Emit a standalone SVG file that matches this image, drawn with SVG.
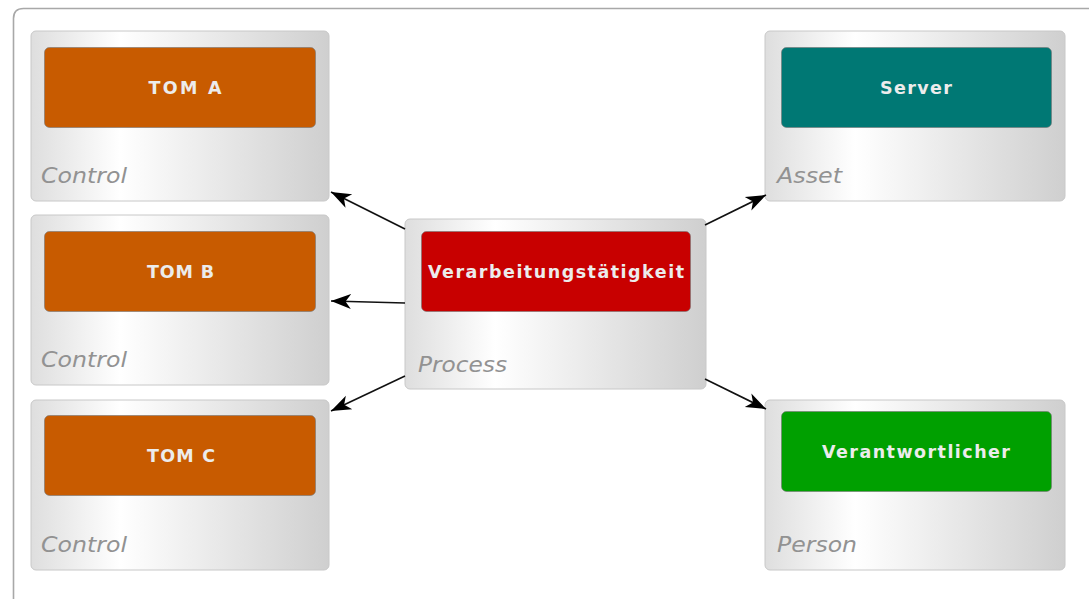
<svg xmlns="http://www.w3.org/2000/svg" width="1089" height="599" viewBox="0 0 1089 599">
<defs>
<linearGradient id="cg" x1="0" y1="0" x2="1" y2="0">
<stop offset="0" stop-color="#dedede"/>
<stop offset="0.3" stop-color="#ffffff"/>
<stop offset="1" stop-color="#cfcfcf"/>
</linearGradient>
<marker id="ah" markerUnits="userSpaceOnUse" markerWidth="22" markerHeight="18" refX="20" refY="9" orient="auto" viewBox="0 0 22 18">
<path d="M0,1.5 L20,9 L0,16.5 L5.5,9 Z" fill="#000"/>
</marker>
<style>
.box{fill:url(#cg);stroke:#c8c8c8;stroke-width:1}
.inner{stroke:#777;stroke-opacity:0.6;stroke-width:1}
.lbl{font-family:"DejaVu Sans",Verdana,sans-serif;font-weight:bold;font-size:17.5px;fill:#ececec;text-anchor:middle}
.typ{font-family:"DejaVu Sans","Liberation Sans",sans-serif;font-style:italic;font-weight:300;font-size:21px;fill:#929292}
.edge{stroke:#111;stroke-width:1.6;fill:none;marker-end:url(#ah)}
</style>
</defs>
<rect width="1089" height="599" fill="#fff"/>
<path d="M13.5,610 L13.5,18.5 Q13.5,8.5 23.5,8.5 L1100,8.5" fill="none" stroke="#a8a8a8" stroke-width="1.6"/>

<g id="tomA">
<rect class="box" x="31" y="31" width="298" height="170" rx="5"/>
<rect class="inner" x="44.5" y="47.5" width="271" height="80" rx="5" fill="#c85b00"/>
<text class="lbl" x="185" y="93.5" textLength="73" lengthAdjust="spacing">TOM A</text>
<text class="typ" x="41" y="183" textLength="86" lengthAdjust="spacingAndGlyphs">Control</text>
</g>
<g id="tomB">
<rect class="box" x="31" y="215" width="298" height="170" rx="5"/>
<rect class="inner" x="44.5" y="231.5" width="271" height="80" rx="5" fill="#c85b00"/>
<text class="lbl" x="180.5" y="277.5" textLength="67" lengthAdjust="spacing">TOM B</text>
<text class="typ" x="41" y="367" textLength="86" lengthAdjust="spacingAndGlyphs">Control</text>
</g>
<g id="tomC">
<rect class="box" x="31" y="400" width="298" height="170" rx="5"/>
<rect class="inner" x="44.5" y="415.5" width="271" height="80" rx="5" fill="#c85b00"/>
<text class="lbl" x="181" y="462" textLength="68" lengthAdjust="spacing">TOM C</text>
<text class="typ" x="41" y="552" textLength="86" lengthAdjust="spacingAndGlyphs">Control</text>
</g>
<g id="process">
<rect class="box" x="405" y="219" width="301" height="170" rx="5"/>
<rect class="inner" x="421.5" y="231.5" width="269" height="80" rx="5" fill="#c80000"/>
<text class="lbl" x="556" y="278" textLength="256" lengthAdjust="spacing">Verarbeitungstätigkeit</text>
<text class="typ" x="418" y="372" textLength="89" lengthAdjust="spacingAndGlyphs">Process</text>
</g>
<g id="server">
<rect class="box" x="765" y="31" width="300" height="170" rx="5"/>
<rect class="inner" x="781.5" y="47.5" width="270" height="80" rx="5" fill="#007874"/>
<text class="lbl" x="916" y="93.5" textLength="72" lengthAdjust="spacing">Server</text>
<text class="typ" x="777" y="183" textLength="65" lengthAdjust="spacingAndGlyphs">Asset</text>
</g>
<g id="person">
<rect class="box" x="765" y="400" width="300" height="170" rx="5"/>
<rect class="inner" x="781.5" y="411.5" width="270" height="80" rx="5" fill="#00a000"/>
<text class="lbl" x="916" y="457.5" textLength="188" lengthAdjust="spacing">Verantwortlicher</text>
<text class="typ" x="777" y="552" textLength="80" lengthAdjust="spacingAndGlyphs">Person</text>
</g>

<g id="connectors">
<line class="edge" x1="405" y1="229" x2="331" y2="192"/>
<line class="edge" x1="405" y1="303" x2="331" y2="301"/>
<line class="edge" x1="405" y1="376" x2="331" y2="411"/>
<line class="edge" x1="705" y1="225" x2="766" y2="195"/>
<line class="edge" x1="705" y1="379" x2="766" y2="409"/>
</g>
</svg>
